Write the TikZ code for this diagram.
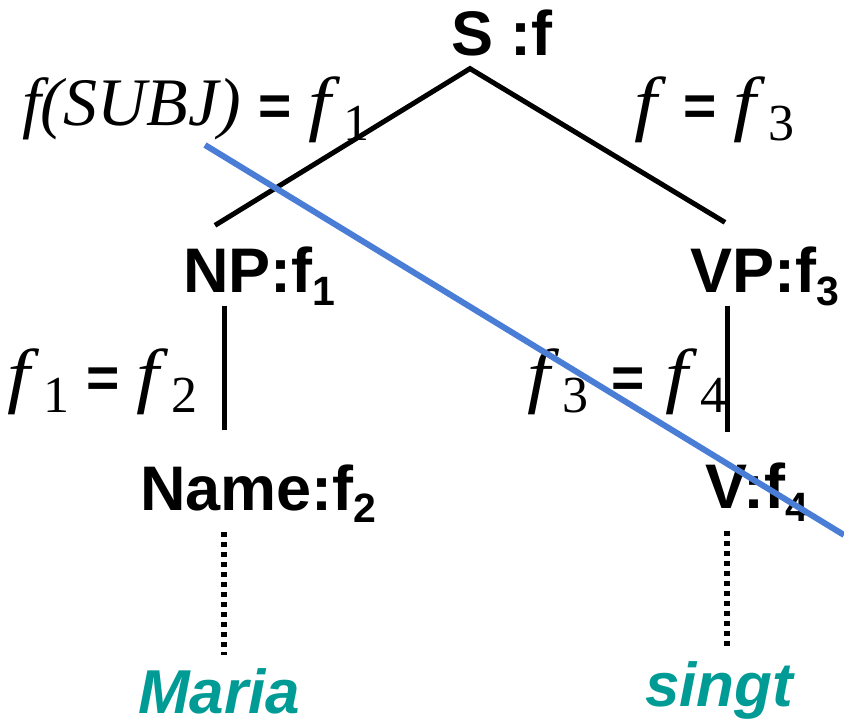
\documentclass[tikz,border=0pt]{standalone}
\usepackage{fontspec}
\setmainfont{Liberation Serif}
\setsansfont{Liberation Sans}
\definecolor{cutBlue}{HTML}{4A7DD6}
\definecolor{wordTeal}{HTML}{009B95}
\newcommand{\catsub}[1]{\raisebox{-13pt}{\fontsize{41}{41}\selectfont #1}}
\newcommand{\fglyph}{\raisebox{-2pt}{\scalebox{1.2}[1.06]{\textit{f}}}}
\newcommand{\fvar}[1]{\fglyph\kern3pt\raisebox{-15pt}{\fontsize{52}{52}\selectfont #1}}
\newcommand{\eqs}{{\fontsize{57}{57}\selectfont\sffamily\bfseries =}}

\begin{document}
\begin{tikzpicture}[x=1pt,y=-1pt,
  cat/.style={inner sep=0pt,outer sep=0pt,anchor=base west,font=\fontsize{63}{63}\selectfont\sffamily\bfseries},
  eqn/.style={inner sep=0pt,outer sep=0pt,anchor=base west,font=\fontsize{68}{68}\selectfont},
  word/.style={cat,wordTeal,font=\fontsize{62}{62}\selectfont\sffamily\bfseries\itshape},
  branch/.style={line width=5pt},
  lexical/.style={line width=5.5pt,dash pattern=on 5pt off 5pt}]
\useasboundingbox (0,0) rectangle (844,727);
% categories
\node[cat] (s) at (451,56) {S :f};
\node[cat] (np) at (183,293) {NP:f\catsub{1}};
\node[cat] (vp) at (690,293) {VP:f\catsub{3}};
\node[cat] (name) at (140,510) {Name:f\catsub{2}};
\node[cat] (v) at (705,508) {V:f\catsub{4}};
\node[word] (maria) at (138,713) {Maria};
\node[word] (singt) at (645,706) {singt};
% equations
\node[eqn] (subj) at (22,126) {\textit{f(SUBJ)} \eqs{} \fvar{1}};
\node[eqn] (head) at (634,126) {\fglyph{} \eqs{} \fvar{3}};
\node[eqn] (nameq) at (8,398) {\fvar{1} \eqs{} \fvar{2}};
\node[eqn] (vq) at (527,398) {\fvar{3}\kern6pt{} \eqs{}\kern4pt{} \fvar{4}};
% tree
\draw[branch] ([shift={(32,-22)}]np.north west) -- ([shift={(19,12)}]s.south west)
  -- ([shift={(35,-25)}]vp.north west);
\draw[branch] ([shift={(41,0)}]np.south west) -- ([shift={(84,-34)}]name.north west);
\draw[branch] ([shift={(37,0)}]vp.south west) -- ([shift={(22,-30)}]v.north west);
\draw[lexical] ([shift={(84,9)}]name.south west) -- ([shift={(86,-13)}]maria.north west);
\draw[lexical] ([shift={(22,10)}]v.south west) -- ([shift={(82,-13)}]singt.north west);
% strike
\coordinate (cut-a) at (205,145);
\coordinate (cut-b) at (844,535);
\draw[cutBlue,line width=6pt] (cut-a) -- (cut-b);
\end{tikzpicture}
\end{document}
